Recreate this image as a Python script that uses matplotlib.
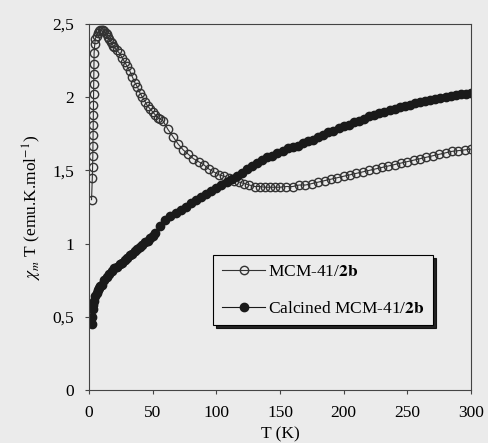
import matplotlib
matplotlib.use('Agg')
import matplotlib.pyplot as plt

plt.rcParams['font.family'] = ['Liberation Serif', 'DejaVu Serif']
plt.rcParams['mathtext.fontset'] = 'stix'
plt.rcParams['xtick.direction'] = 'out'
plt.rcParams['ytick.direction'] = 'out'

# MCM-41/2b (open circles)
T_raw = [2.0, 2.6, 2.8, 3.0, 3.1, 3.2, 3.3, 3.4, 3.5, 3.6, 3.7, 3.8, 3.9, 4.0, 4.5, 5, 6, 7, 8, 9,
         10, 11, 12, 13, 14, 15, 16, 17, 18, 19, 20, 22, 24, 26, 28, 30, 32, 34, 36, 38,
         40, 42, 44, 46, 48, 50, 52, 54, 56, 58, 62, 66, 70, 74, 78, 82, 86, 90, 94, 98,
         102, 106, 110, 114, 118, 122, 126, 130, 134, 138, 142, 146, 150, 155, 160, 165, 170, 175, 180, 185,
         190, 195, 200, 205, 210, 215, 220, 225, 230, 235, 240, 245, 250, 255, 260, 265, 270, 275, 280, 285,
         290, 295, 300]
chi_raw = [1.30, 1.45, 1.52, 1.60, 1.67, 1.74, 1.81, 1.88, 1.95, 2.02, 2.09, 2.16, 2.23, 2.30, 2.36, 2.40, 2.42, 2.44, 2.45, 2.46,
           2.46, 2.46, 2.45, 2.44, 2.43, 2.41, 2.40, 2.38, 2.37, 2.35, 2.34, 2.32, 2.30, 2.27, 2.24, 2.21, 2.18, 2.14, 2.10, 2.07,
           2.03, 2.00, 1.97, 1.94, 1.92, 1.90, 1.88, 1.86, 1.85, 1.84, 1.78, 1.73, 1.68, 1.64, 1.61, 1.58, 1.56, 1.54, 1.51, 1.49,
           1.47, 1.46, 1.45, 1.43, 1.42, 1.41, 1.40, 1.39, 1.39, 1.385, 1.385, 1.385, 1.385, 1.39, 1.39, 1.40, 1.40, 1.41, 1.42, 1.43,
           1.44, 1.45, 1.46, 1.47, 1.48, 1.49, 1.50, 1.51, 1.52, 1.53, 1.54, 1.55, 1.56, 1.57, 1.58, 1.59, 1.60, 1.61, 1.62, 1.63,
           1.635, 1.64, 1.645]

# Calcined MCM-41/2b (filled circles)
T_calc = [2, 2.5, 3, 3.5, 4, 5, 6, 7, 8, 9, 10, 12, 14, 16, 18, 20, 22, 24, 26, 28,
          30, 32, 34, 36, 38, 40, 42, 44, 46, 48, 50, 52, 56, 60, 64, 68, 72, 76, 80, 84,
          88, 92, 96, 100, 104, 108, 112, 116, 120, 124, 128, 132, 136, 140, 144, 148, 152, 156, 160, 164,
          168, 172, 176, 180, 184, 188, 192, 196, 200, 204, 208, 212, 216, 220, 224, 228, 232, 236, 240, 244,
          248, 252, 256, 260, 264, 268, 272, 276, 280, 284, 288, 292, 296, 300]
chi_calc = [0.45, 0.50, 0.55, 0.58, 0.61, 0.64, 0.66, 0.68, 0.70, 0.71, 0.72, 0.75, 0.77, 0.79, 0.81, 0.83, 0.84, 0.86, 0.87, 0.89,
            0.90, 0.92, 0.93, 0.95, 0.96, 0.98, 0.99, 1.01, 1.02, 1.04, 1.05, 1.07, 1.12, 1.16, 1.19, 1.21, 1.23, 1.25, 1.28, 1.30,
            1.32, 1.34, 1.36, 1.38, 1.40, 1.42, 1.44, 1.46, 1.48, 1.51, 1.53, 1.55, 1.57, 1.59, 1.60, 1.62, 1.63, 1.65, 1.66, 1.67,
            1.69, 1.70, 1.71, 1.73, 1.74, 1.76, 1.77, 1.79, 1.80, 1.81, 1.83, 1.84, 1.85, 1.87, 1.88, 1.89, 1.90, 1.91, 1.92, 1.93,
            1.94, 1.95, 1.96, 1.97, 1.975, 1.98, 1.99, 1.995, 2.00, 2.01, 2.015, 2.02, 2.025, 2.03]

xticks = [0, 50, 100, 150, 200, 250, 300]
yticks = [0, 0.5, 1, 1.5, 2, 2.5]
ylabels = ['0', '0,5', '1', '1,5', '2', '2,5']

bg = '#ebebeb'
fs = 12.5
fig = plt.figure(figsize=(4.88, 4.43), dpi=100, facecolor=bg)
ax = fig.add_axes([89/488, 1-390/443, 382/488, 366/443])
ax.set_facecolor(bg)

ax.plot(T_raw, chi_raw, color='#333333', lw=0.8, marker='o', ms=6, mfc='none',
        mec='#333333', mew=1.0, label=r'MCM-41/$\mathbf{2b}$')
ax.plot(T_calc, chi_calc, color='#1a1a1a', lw=0.8, marker='o', ms=6, mfc='#1a1a1a',
        mec='#1a1a1a', label=r'Calcined MCM-41/$\mathbf{2b}$')

ax.set_xlim(0, 300)
ax.set_ylim(0, 2.5)
ax.set_xticks(xticks)
ax.set_yticks(yticks)
ax.set_yticklabels(ylabels)
ax.tick_params(labelsize=fs, length=3, width=0.8, color='#444444')
ax.tick_params(axis='x', pad=8)
ax.tick_params(axis='y', pad=8)
for s in ax.spines.values():
    s.set_linewidth(0.8)
    s.set_color('#444444')

ax.set_xlabel('T (K)', fontsize=fs, labelpad=4)
ax.set_ylabel(r'$\chi_{m}$ T (emu.K.mol$^{-1}$)', fontsize=fs, labelpad=6)

leg = ax.legend(loc='upper left', bbox_to_anchor=(0.325, 0.369), fontsize=fs,
                frameon=True, fancybox=False, shadow={'color': 'black', 'alpha': 0.85},
                edgecolor='black', facecolor=bg, handlelength=2.5, borderpad=0.5,
                labelspacing=1.2, handletextpad=0.15, framealpha=1, borderaxespad=0)
leg.get_frame().set_linewidth(0.8)

plt.savefig('out.png', dpi=100, facecolor=bg)
